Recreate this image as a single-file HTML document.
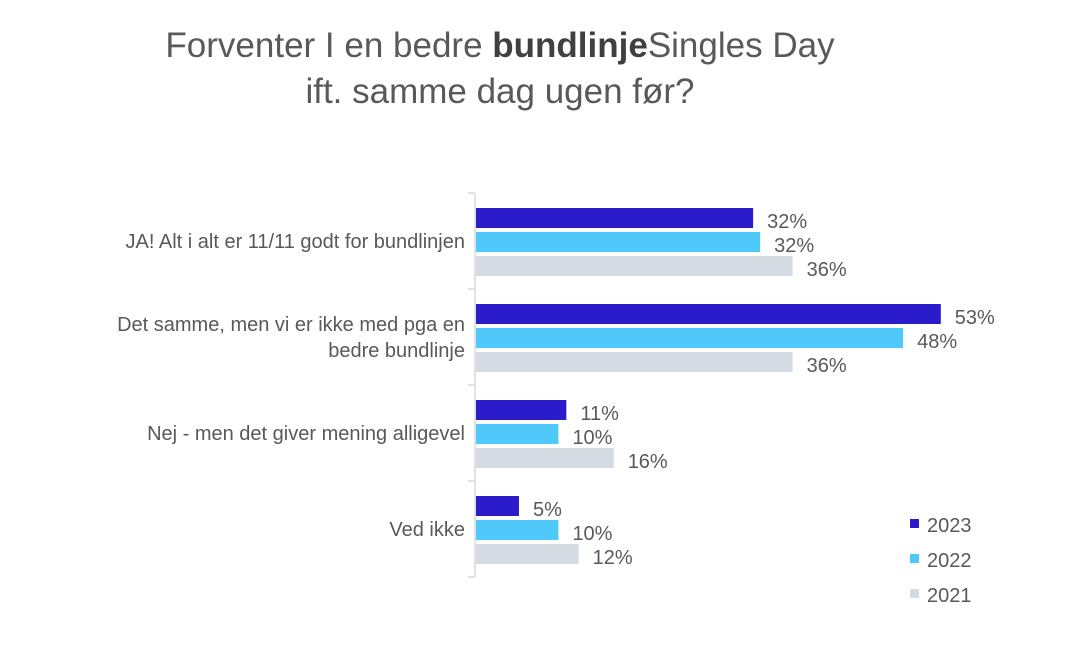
<!DOCTYPE html>
<html><head><meta charset="utf-8"><style>
body{margin:0;background:#fff;}
svg text{font-family:"Liberation Sans",Arial,sans-serif;fill:#595959;}
</style></head><body>
<svg width="1068" height="651" viewBox="0 0 1068 651">
<text x="500" y="57" font-size="35" text-anchor="middle">Forventer I en bedre <tspan font-weight="bold" fill="#404040">bundlinje</tspan>Singles Day</text>
<text x="500" y="103" font-size="35" text-anchor="middle">ift. samme dag ugen før?</text>
<g id="axis"></g>
<g id="bars"></g>
<g id="legend"></g>
</svg>
<script>
const categories=[["JA! Alt i alt er 11/11 godt for bundlinjen"],["Det samme, men vi er ikke med pga en","bedre bundlinje"],["Nej - men det giver mening alligevel"],["Ved ikke"]];
const seriesNames=["2023","2022","2021"];
const v2023=[31.6,53,10.3,4.9];
const v2022=[32.4,48.7,9.4,9.4];
const v2021=[36.1,36.1,15.7,11.7];
const labels2023=["32%","53%","11%","5%"];
const labels2022=["32%","48%","10%","10%"];
const labels2021=["36%","36%","16%","12%"];
const colors=["#2a1bcb","#4fc9f9","#d5dbe3"];
const NS="http://www.w3.org/2000/svg";
const x0=476,scale=8.77,plotTop=193,pitch=96,barH=20,barGap=24,firstOff=15;
const xs=v=>x0+v*scale;
const yGroup=i=>plotTop+i*pitch;
function mk(tag,attrs,parent){const e=document.createElementNS(NS,tag);for(const k in attrs)e.setAttribute(k,attrs[k]);parent.appendChild(e);return e;}
const axisG=document.getElementById('axis'),barsG=document.getElementById('bars'),legendG=document.getElementById('legend');
const al=mk('line',{x1:475,x2:475,y1:plotTop,y2:yGroup(categories.length),stroke:"#d9d9d9","stroke-width":1.5},axisG);


for(let i=0;i<=categories.length;i++){
 const t=mk('line',{x1:468,x2:475,y1:yGroup(i),y2:yGroup(i),stroke:"#d9d9d9","stroke-width":1.5},axisG);
 
 
}
const series=[v2023,v2022,v2021],slabels=[labels2023,labels2022,labels2021];
categories.forEach((c,i)=>{
 const cy=yGroup(i)+pitch/2;
 const lt=mk('text',{x:465,"text-anchor":"end","font-size":20},axisG);
 
 
 c.forEach((line,j)=>{const ts=mk('tspan',{x:465,y:cy+7+(j-(c.length-1)/2)*26},lt);ts.textContent=line;});
 series.forEach((s,k)=>{
  const y=yGroup(i)+firstOff+k*barGap;
  const r=mk('rect',{x:x0,y:y,width:xs(s[i])-x0,height:barH,fill:colors[k]},barsG);
  
  
  const t=mk('text',{x:xs(s[i])+14,y:y+barH/2+10,"font-size":20},barsG);
  
  
  t.textContent=slabels[k][i];
 });
});
seriesNames.forEach((n,k)=>{
 const y=524+k*35;
 const sq=mk('rect',{x:910,y:y-5,width:9,height:9,fill:colors[k]},legendG);
 
 
 const t=mk('text',{x:927,y:y+8,"font-size":20},legendG);
 
 
 t.textContent=n;
});
</script>
</body></html>
